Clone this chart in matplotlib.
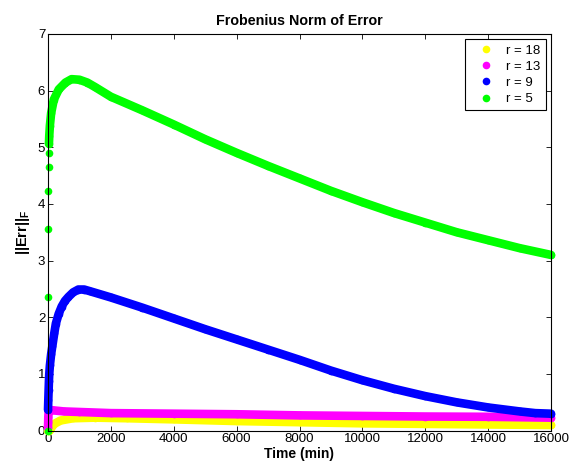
import matplotlib
matplotlib.use('Agg')
import matplotlib.pyplot as plt
from matplotlib.lines import Line2D

plt.rcParams['font.family'] = ['Liberation Sans', 'DejaVu Sans']
plt.rcParams['mathtext.fontset'] = 'custom'
plt.rcParams['mathtext.rm'] = 'Liberation Sans'
plt.rcParams['mathtext.bf'] = 'Liberation Sans:bold'

# ==========================================
# data
# ==========================================
t_r18 = [0, 30, 60, 100, 200, 400, 800, 1500, 2500, 4000, 6000, 8000, 10000, 12000, 14000, 16000]
err_r18 = [0.0, 0.0, 0.02, 0.05, 0.12, 0.18, 0.22, 0.23, 0.22, 0.20, 0.17, 0.15, 0.13, 0.12, 0.11, 0.10]

t_r13 = [0, 5, 10, 20, 50, 150, 500, 1000, 2000, 4000, 6000, 8000, 10000, 12000, 14000, 16000]
err_r13 = [0.05, 0.15, 0.25, 0.33, 0.37, 0.36, 0.34, 0.33, 0.31, 0.30, 0.29, 0.27, 0.26, 0.25, 0.245, 0.23]

t_r9 = [0, 10, 20, 30, 40, 60, 100, 140, 200, 250, 340, 435, 540, 650, 800, 965, 1150, 1336, 2000,
        3000, 4000, 5000, 6000, 7000, 8000, 9000, 10000, 11000, 12000, 13000, 14000, 15000, 15500, 16000]
err_r9 = [0.37, 0.55, 0.72, 0.88, 1.00, 1.15, 1.35, 1.50, 1.72, 1.89, 2.06, 2.19, 2.29, 2.36, 2.44, 2.49,
          2.49, 2.46, 2.35, 2.17, 1.98, 1.79, 1.61, 1.43, 1.25, 1.06, 0.89, 0.74, 0.61, 0.50, 0.41,
          0.34, 0.31, 0.30]

t_r5 = [0, 5, 10, 15, 20, 25, 30, 40, 60, 100, 185, 343, 556, 750, 1000, 1250, 1500, 2000, 3000, 4000,
        5000, 6000, 7000, 8000, 9000, 10000, 11000, 12000, 13000, 14000, 15000, 16000]
err_r5 = [0.0, 2.35, 3.55, 4.23, 4.65, 4.89, 5.06, 5.20, 5.38, 5.60, 5.84, 6.02, 6.14, 6.20, 6.19,
          6.14, 6.06, 5.89, 5.65, 5.40, 5.14, 4.90, 4.67, 4.45, 4.23, 4.03, 3.84, 3.67, 3.50, 3.36,
          3.22, 3.10]

# first samples that stand apart as single dots (no band)
n_sparse = {'r = 18': 0, 'r = 13': 0, 'r = 9': 0, 'r = 5': 6}

series = [
    (t_r18, err_r18, (1, 1, 0), 'r = 18'),
    (t_r13, err_r13, (1, 0, 1), 'r = 13'),
    (t_r9, err_r9, (0, 0, 1), 'r = 9'),
    (t_r5, err_r5, (0, 1, 0), 'r = 5'),
]

# ==========================================
# plot
# ==========================================
fig = plt.figure(figsize=(5.82, 4.67), dpi=100)
ax = fig.add_axes([48 / 582, 1 - 430.7 / 467, 503 / 582, 396.9 / 467])

LW = 6.2
MS = 5.5
handles = []
for t, e, c, lab in series:
    k = n_sparse[lab]
    ax.plot(t[k:], e[k:], color=c, linewidth=LW, solid_capstyle='round',
            solid_joinstyle='round', clip_on=False)
    ax.plot(t, e, color=c, linestyle='none', marker='o', markersize=MS,
            markeredgewidth=0, clip_on=False)
    handles.append(Line2D([], [], color=c, marker='o', linestyle='none',
                          markersize=MS, markeredgewidth=0, label=lab))

ax.set_xlim(0, 16000)
ax.set_ylim(0, 7)
ax.set_xticks(range(0, 16001, 2000))
ax.set_yticks(range(0, 8))
ax.tick_params(direction='in', length=3.5, width=0.6, top=True, right=True,
               labelsize=9.5, pad=2)
for sp in ax.spines.values():
    sp.set_linewidth(0.8)

ax.set_title('Frobenius Norm of Error', fontsize=10.3, fontweight='bold', pad=6)
ax.set_xlabel('Time (min)', fontsize=10, fontweight='bold', labelpad=1)
ax.set_ylabel(r'$\mathbf{||Err||_F}$', fontsize=10.5, labelpad=4)

leg = ax.legend(handles=handles, loc='upper right', fontsize=9.5, fancybox=False,
                framealpha=1, edgecolor='black', borderaxespad=0.4,
                handlelength=2.4, handletextpad=0.35, labelspacing=0.3,
                borderpad=0.4)
leg.get_frame().set_linewidth(0.8)

plt.savefig('out.png', dpi=100)
